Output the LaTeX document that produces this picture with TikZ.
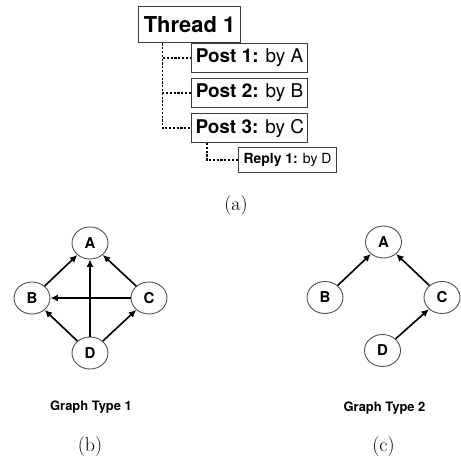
\documentclass[tikz,border=0pt]{standalone}
\usepackage{fontspec}
\newfontfamily\heros{TeX Gyre Heros}
\usetikzlibrary{arrows.meta,positioning,shapes.geometric}
\definecolor{boxgray}{RGB}{60,60,60}
\definecolor{ringgray}{RGB}{80,80,80}
\newcommand{\fsz}[1]{\fontsize{#1}{#1}\selectfont}
\tikzset{
  threadbox/.style={draw=boxgray, line width=1bp, inner xsep=5bp, inner ysep=0pt,
      minimum height=36bp, font=\heros\bfseries\fsz{22}},
  postbox/.style={draw=boxgray, line width=1bp, inner xsep=4bp, inner ysep=0pt,
      minimum width=116bp, minimum height=29bp, font=\heros\fsz{19}},
  replybox/.style={draw=boxgray, line width=1bp, inner xsep=4bp, inner ysep=0pt,
      minimum width=98bp, minimum height=25bp, font=\heros\fsz{14}},
  dotline/.style={line width=1.2bp, dash pattern=on 2.2bp off 1.6bp},
  vnode/.style={ellipse, draw=ringgray, line width=0.9bp, minimum width=36bp,
      minimum height=32bp, inner sep=0pt, font=\heros\bfseries\fsz{15}},
  earr/.style={-{Latex[length=7.5bp,width=7bp]}, line width=1.6bp},
  gcap/.style={font=\heros\bfseries\fsz{13}},
  sublab/.style={font=\fsz{20}},
}
\begin{document}
\begin{tikzpicture}[x=1bp,y=-1bp]
\useasboundingbox (0,0) rectangle (461,456);
% (a) thread tree
\node[threadbox] (thread) at (189.5,25) {Thread 1};
\node[postbox, anchor=north west] (post1) at (191,43) {\bfseries Post 1: \mdseries by A};
\node[postbox, anchor=north west] (post2) at (191,78) {\bfseries Post 2: \mdseries by B};
\node[postbox, anchor=north west] (post3) at (191,113) {\bfseries Post 3: \mdseries by C};
\node[replybox, anchor=north west] (reply1) at (238,147) {\bfseries Reply 1: \mdseries by D};
\draw[dotline] ([xshift=24bp]thread.south west) |- (post3.west);
\draw[dotline] ([xshift=24bp]thread.south west) |- (post1.west);
\draw[dotline] ([xshift=24bp]thread.south west) |- (post2.west);
\draw[dotline] ([xshift=16bp]post3.south west) |- (reply1.west);
\node[sublab] (laba) at (236,206) {(a)};
% (b) graph type 1
\begin{scope}[shift={(90,298)}]
  \node[vnode] (bA) at (0,-55) {A};
  \node[vnode] (bB) at (-58,0) {B};
  \node[vnode] (bC) at (59,0) {C};
  \node[vnode] (bD) at (0,55) {D};
  \draw[earr] (bB) -- (bA);
  \draw[earr] (bC) -- (bA);
  \draw[earr] (bD) -- (bA);
  \draw[earr] (bC) -- (bB);
  \draw[earr] (bD) -- (bB);
  \draw[earr] (bD) -- (bC);
  \node[gcap] (capb) at (1,109) {Graph Type 1};
  \node[sublab] (labb) at (0,149) {(b)};
\end{scope}
% (c) graph type 2
\begin{scope}[shift={(383.5,297.5)}]
  \node[vnode] (cA) at (0,-55.5) {A};
  \node[vnode] (cB) at (-58.5,0) {B};
  \node[vnode] (cC) at (58.5,0) {C};
  \node[vnode] (cD) at (-1,53) {D};
  \draw[earr] (cB) -- (cA);
  \draw[earr] (cC) -- (cA);
  \draw[earr] (cD) -- (cC);
  \node[gcap] (capc) at (1,110.5) {Graph Type 2};
  \node[sublab] (labc) at (0,149) {(c)};
\end{scope}
\end{tikzpicture}
\end{document}
